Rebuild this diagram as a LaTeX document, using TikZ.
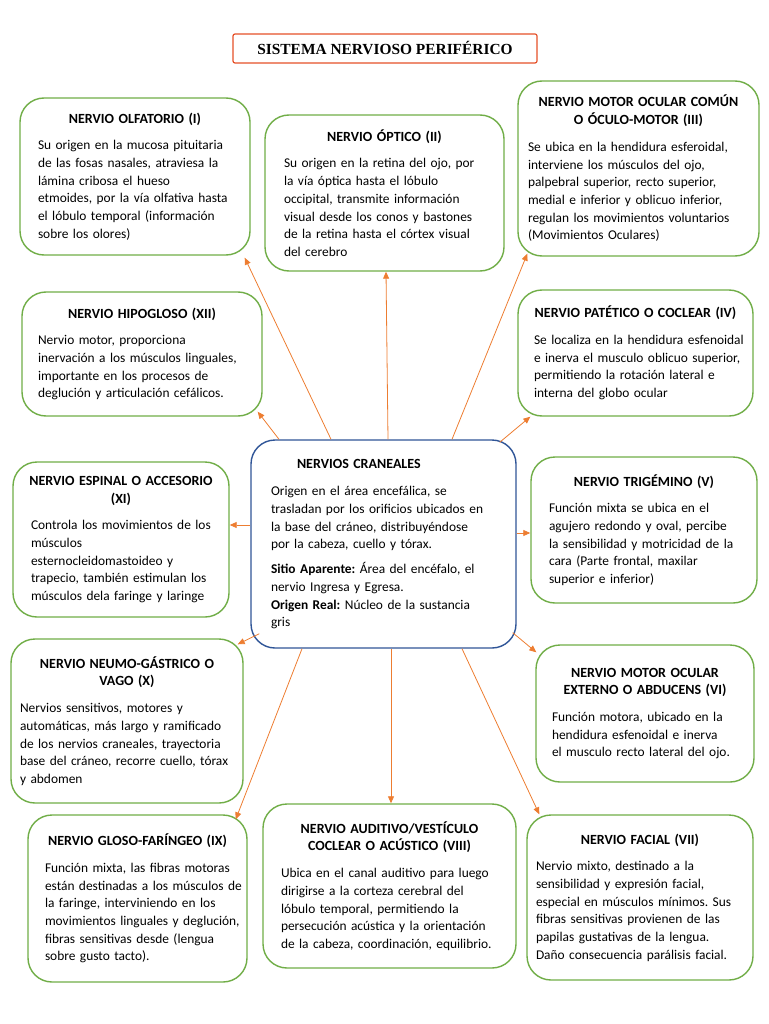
\documentclass[tikz,border=0pt]{standalone}
\usepackage{fontspec}
\setmainfont{Carlito}
\newfontfamily\ttlfont{Liberation Serif}
\usetikzlibrary{arrows.meta}
\definecolor{nvgreen}{RGB}{112,173,71}
\definecolor{nvblue}{RGB}{47,85,151}
\definecolor{nvorange}{RGB}{237,125,49}
\definecolor{nvred}{RGB}{229,80,40}
\newcommand{\hd}[1]{{\centering\leftskip=-20pt plus 1fil\rightskip=-20pt plus 1fil
  \fontsize{14}{17.7}\selectfont\bfseries #1\par}\vspace{9pt}}

\begin{document}
\frenchspacing
\begin{tikzpicture}[x=1pt, y=-1pt,
  every node/.style={font=\fontsize{13.4}{17.7}\selectfont},
  bx/.style={draw=nvgreen, line width=1.4pt, rounded corners=24pt, align=left, inner ysep=0pt,
    execute at begin node={\hyphenpenalty=10000\rightskip=-30pt plus 1fil}},
  cbx/.style={bx, draw=nvblue},
  tt/.style={draw=nvred, line width=1.2pt, rounded corners=2pt, minimum width=304pt, minimum height=29pt,
    font=\ttlfont\bfseries\fontsize{15.4}{18}\selectfont},
  ar/.style={draw=nvorange, line width=0.8pt, -{Triangle[length=7pt,width=6pt]}}]
\useasboundingbox (0,0) rectangle (768,1024);

\node[tt] (ttl) at (385,48.5) {SISTEMA NERVIOSO PERIFÉRICO};

% central box
\node[cbx, text width=225pt, inner xsep=20pt, minimum height=208pt] (cn) at (383.5,544) {%
{\fontsize{14}{17.7}\selectfont\hspace*{26pt}\textbf{NERVIOS CRANEALES}\par}\vspace{10pt}
Origen en el área encefálica, se\\ trasladan por los orificios ubicados en\\ la base del cráneo, distribuyéndose\\ por la cabeza, cuello y tórax.\par\vspace{7pt}
\textbf{Sitio Aparente:} Área del encéfalo, el\\ nervio Ingresa y Egresa.\\ \textbf{Origen Real:} Núcleo de la sustancia\\ gris};

% top row
\node[bx, text width=194pt, inner xsep=18pt, minimum height=157pt] (olf) at (135,176.5) {%
\hd{NERVIO OLFATORIO (I)}
Su origen en la mucosa pituitaria\\ de las fosas nasales, atraviesa la\\ lámina cribosa el hueso\\ etmoides, por la vía olfativa hasta\\ el lóbulo temporal (información\\ sobre los olores)};
\node[bx, text width=201pt, inner xsep=19pt, minimum height=156pt] (opt) at (384.5,193) {%
\hd{NERVIO ÓPTICO (II)}
Su origen en la retina del ojo, por\\ la vía óptica hasta el lóbulo\\ occipital, transmite información\\ visual desde los conos y bastones\\ de la retina hasta el córtex visual\\ del cerebro};
\node[bx, text width=221pt, inner xsep=10pt, minimum height=175pt] (moc) at (638.5,168.5) {%
\hd{NERVIO MOTOR OCULAR COMÚN\\ O ÓCULO-MOTOR (III)}
Se ubica en la hendidura esferoidal,\\ interviene los músculos del ojo,\\ palpebral superior, recto superior,\\ medial e inferior y oblicuo inferior,\\ regulan los movimientos voluntarios\\ (Movimientos Oculares)};

% second row
\node[bx, text width=208pt, inner xsep=16pt, minimum height=124pt] (hip) at (142,354) {%
\hd{NERVIO HIPOGLOSO (XII)}
Nervio motor, proporciona\\ inervación a los músculos linguales,\\ importante en los procesos de\\ deglución y articulación cefálicos.};
\node[bx, text width=203pt, inner xsep=16pt, minimum height=126pt] (pat) at (635.5,353) {%
\hd{NERVIO PATÉTICO O COCLEAR (IV)}
Se localiza en la hendidura esfenoidal\\ e inerva el musculo oblicuo superior,\\ permitiendo la rotación lateral e\\ interna del globo ocular};

% middle row
\node[bx, text width=180pt, inner xsep=18pt, minimum height=155pt] (esp) at (121,539.5) {%
\hd{NERVIO ESPINAL O ACCESORIO\\ (XI)}
Controla los movimientos de los\\ músculos\\ esternocleidomastoideo y\\ trapecio, también estimulan los\\ músculos dela faringe y laringe};
\node[bx, text width=190pt, inner xsep=18pt, minimum height=146pt] (trig) at (644,530) {%
\hd{NERVIO TRIGÉMINO (V)}
Función mixta se ubica en el\\ agujero redondo y oval, percibe\\ la sensibilidad y motricidad de la\\ cara (Parte frontal, maxilar\\ superior e inferior)};

% fourth row
\node[bx, text width=214pt, inner xsep=9pt, minimum height=164pt] (neu) at (127,721) {%
\hd{NERVIO NEUMO-GÁSTRICO O\\ VAGO (X)}
Nervios sensitivos, motores y\\ automáticas, más largo y ramificado\\ de los nervios craneales, trayectoria\\ base del cráneo, recorre cuello, tórax\\ y abdomen};
\node[bx, text width=186pt, inner xsep=16pt, minimum height=137pt] (moe) at (645,713.5) {%
\hd{NERVIO MOTOR OCULAR\\ EXTERNO O ABDUCENS (VI)}
Función motora, ubicado en la\\ hendidura esfenoidal e inerva\\ el musculo recto lateral del ojo.};

% bottom row
\node[bx, text width=185pt, inner xsep=17pt, minimum height=167pt] (glo) at (137.5,898.5) {%
\hd{NERVIO GLOSO-FARÍNGEO (IX)}
Función mixta, las fibras motoras\\ están destinadas a los músculos de\\ la faringe, interviniendo en los\\ movimientos linguales y deglución,\\ fibras sensitivas desde (lengua\\ sobre gusto tacto).};
\node[bx, text width=217pt, inner xsep=18pt, minimum height=164pt] (aud) at (389.5,886) {%
\hd{NERVIO AUDITIVO/VESTÍCULO\\ COCLEAR O ACÚSTICO (VIII)}
Ubica en el canal auditivo para luego\\ dirigirse a la corteza cerebral del\\ lóbulo temporal, permitiendo la\\ persecución acústica y la orientación\\ de la cabeza, coordinación, equilibrio.};
\node[bx, text width=208pt, inner xsep=9pt, minimum height=165pt] (fac) at (640,897.5) {%
\hd{NERVIO FACIAL (VII)}
Nervio mixto, destinado a la\\ sensibilidad y expresión facial,\\ especial en músculos mínimos. Sus\\ fibras sensitivas provienen de las\\ papilas gustativas de la lengua.\\ Daño consecuencia parálisis facial.};

% connectors
\draw[ar] ([xshift=-52.5pt]cn.north) -- ([xshift=-6pt,yshift=-2pt]olf.south east);
\draw[ar] ([xshift=4.5pt]cn.north) -- ([xshift=1.5pt]opt.south);
\draw[ar] ([xshift=68.5pt]cn.north) -- ([xshift=10pt,yshift=3pt]moc.south west);
\draw[ar] ([xshift=-104.5pt]cn.north) -- ([xshift=-5pt,yshift=5pt]hip.south east);
\draw[ar] ([xshift=-17pt,yshift=-3pt]cn.north east) -- ([xshift=13pt]pat.south west);
\draw[ar] ([yshift=19pt]cn.west) -- ([yshift=14.5pt]esp.east);
\draw[ar] ([yshift=11pt]cn.east) -- ([yshift=-3pt]trig.west);
\draw[ar] ([xshift=9pt,yshift=15pt]cn.south west) -- ([xshift=-6pt,yshift=-6pt]neu.north east);
\draw[ar] ([xshift=-4pt,yshift=16pt]cn.south east) -- ([xshift=1pt,yshift=-8pt]moe.north west);
\draw[ar] ([xshift=-81.5pt]cn.south) -- ([xshift=-12pt,yshift=-5pt]glo.north east);
\draw[ar] ([xshift=7.5pt]cn.south) -- ([xshift=1.5pt]aud.north);
\draw[ar] ([xshift=78.5pt]cn.south) -- ([xshift=13pt]fac.north west);
\end{tikzpicture}
\end{document}
